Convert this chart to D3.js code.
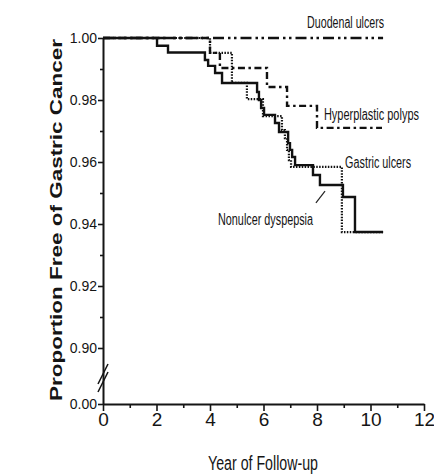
<!DOCTYPE html>
<html>
<head>
<meta charset="utf-8">
<script src="https://cdn.jsdelivr.net/npm/d3@7"></script>
<style>
  body { margin: 0; background: #fff; }
  svg text { fill: #151515; }
</style>
</head>
<body>
<svg class="main-svg" width="434" height="476"></svg>
<script>
// values (years of follow-up, proportion free of cancer)
const xTicks = [0, 2, 4, 6, 8, 10, 12]
const xMinorTicks = [1, 3, 5, 7, 9, 11]
const yTicks = [0.00, 0.90, 0.92, 0.94, 0.96, 0.98, 1.00]
const yMinorTicks = [0.91, 0.93, 0.95, 0.97, 0.99]

const seriesNames = ['Duodenal ulcers', 'Hyperplastic polyps', 'Gastric ulcers', 'Nonulcer dyspepsia']

const duodenalYears = [0, 10.47]
const duodenalFree = [1.0, 1.0]

const polypYears = [0, 4.0, 4.37, 6.13, 6.88, 8.0, 10.43]
const polypFree = [1.0, 0.9952, 0.9903, 0.9842, 0.9781, 0.971, 0.971]

const gastricYears = [0, 4.0, 4.82, 5.38, 5.98, 6.69, 6.80, 6.88, 6.95, 7.03, 8.93, 10.47]
const gastricFree = [1.0, 0.9952, 0.9855, 0.9803, 0.9748, 0.9703, 0.9677, 0.9639, 0.9606, 0.9584, 0.9374, 0.9374]

const dyspepsiaYears = [0, 2.02, 2.43, 3.81, 3.93, 4.19, 4.45, 5.76, 5.83, 5.91, 6.02, 6.43, 6.58, 6.92, 6.99, 7.07, 7.18, 7.85, 8.11, 8.97, 9.42, 10.47]
const dyspepsiaFree = [1.0, 0.9975, 0.9953, 0.9929, 0.991, 0.9887, 0.9855, 0.9826, 0.980, 0.9774, 0.9752, 0.9726, 0.9697, 0.9661, 0.9639, 0.9616, 0.959, 0.9558, 0.9526, 0.9487, 0.9374, 0.9374]

const zip = (xs, ys) => xs.map((t, i) => ({ t: t, v: ys[i] }))
const series = [
  { name: seriesNames[0], values: zip(duodenalYears, duodenalFree), dash: '11,4,2.5,3.5,2.5,4', w: 2.4 },
  { name: seriesNames[1], values: zip(polypYears, polypFree), dash: '7,3.5,2.5,3.5', w: 2.4 },
  { name: seriesNames[2], values: zip(gastricYears, gastricFree), dash: '1.5,1.4', w: 2.2 },
  { name: seriesNames[3], values: zip(dyspepsiaYears, dyspepsiaFree), dash: null, w: 2.4 }
]

const margin = { top: 38, left: 103 }
const width = 321
const height = 366
const yBreak = 0.885

const svg = d3.select('.main-svg')
const g = svg.append('g').attr('transform', `translate(${margin.left},${margin.top})`)

const x = d3.scaleLinear().domain([0, 12]).range([0, width])
// broken axis: 0.00 sits just below the 0.90–1.00 segment
const y = d3.scaleLinear().domain([0, yBreak, 1]).range([height, (1 - yBreak) * 3100, 0])

const tickFont = "'Liberation Sans Narrow', 'Arial Narrow', 'Liberation Sans', sans-serif"

// x axis
g.append('g')
  .attr('class', 'x axis')
  .attr('transform', `translate(0,${height})`)
  .call(d3.axisBottom(x).tickValues(xTicks).tickSize(7).tickSizeOuter(0).tickPadding(2).tickFormat(d3.format('d')))
g.append('g')
  .attr('class', 'x minor')
  .attr('transform', `translate(0,${height})`)
  .call(d3.axisBottom(x).tickValues(xMinorTicks).tickSize(4).tickSizeOuter(0).tickFormat(''))
  .select('.domain').remove()

// y axis
g.append('g')
  .attr('class', 'y axis')
  .call(d3.axisLeft(y).tickValues(yTicks).tickSize(5).tickSizeOuter(0).tickPadding(1).tickFormat(d3.format('.2f')))
g.append('g')
  .attr('class', 'y minor')
  .call(d3.axisLeft(y).tickValues(yMinorTicks).tickSize(3).tickSizeOuter(0).tickFormat(''))
  .select('.domain').remove()

g.selectAll('.domain').attr('stroke', '#151515').attr('stroke-width', 2)
g.selectAll('.tick line').attr('stroke', '#151515').attr('stroke-width', 1.6)
g.selectAll('.y.axis .tick text')
  .style('font-family', tickFont)
  .style('font-size', '14px')
g.selectAll('.x.axis .tick text')
  .style('font-family', tickFont)
  .style('font-size', '19px')

// axis break marks
const breakY = (y(0.90) + y(0)) / 2 + 2
;[-4, 4].forEach((off) => {
  g.append('line')
    .attr('x1', -5).attr('y1', breakY + off + 10)
    .attr('x2', 5).attr('y2', breakY + off - 10)
    .attr('stroke', '#151515')
    .attr('stroke-width', 1.6)
})

// survival curves
const line = d3.line()
  .x((d) => x(d.t))
  .y((d) => y(d.v))
  .curve(d3.curveStepAfter)

g.selectAll('.curve')
  .data(series)
  .enter()
  .append('path')
  .attr('class', 'curve')
  .attr('d', (d) => line(d.values))
  .attr('fill', 'none')
  .attr('stroke', '#111')
  .attr('stroke-width', (d) => d.w)
  .attr('stroke-dasharray', (d) => d.dash)

// curve labels
const labelFont = "'Liberation Sans Narrow', 'Arial Narrow', 'Liberation Sans', sans-serif"
const labels = [
  { text: seriesNames[0], t: 7.63, v: 1.0032, len: 77 },
  { text: seriesNames[1], t: 8.26, v: 0.9735, len: 95 },
  { text: seriesNames[2], t: 9.05, v: 0.9581, len: 66 },
  { text: seriesNames[3], t: 4.30, v: 0.9397, len: 95 }
]
g.selectAll('.curve-label')
  .data(labels)
  .enter()
  .append('text')
  .attr('class', 'curve-label')
  .attr('x', (d) => x(d.t))
  .attr('y', (d) => y(d.v))
  .attr('textLength', (d) => d.len)
  .attr('lengthAdjust', 'spacingAndGlyphs')
  .style('font-family', labelFont)
  .style('font-size', '16px')
  .text((d) => d.text)

// leader line to the nonulcer dyspepsia curve
g.append('line')
  .attr('x1', x(7.96)).attr('y1', y(0.9468))
  .attr('x2', x(8.30)).attr('y2', y(0.9506))
  .attr('stroke', '#222')
  .attr('stroke-width', 1.2)

// axis titles
g.append('text')
  .attr('transform', `translate(-41,${height / 2 - 1}) rotate(-90)`)
  .attr('text-anchor', 'middle')
  .attr('textLength', 362)
  .attr('lengthAdjust', 'spacingAndGlyphs')
  .style('font-family', "'Liberation Sans', Arial, sans-serif")
  .style('font-weight', 'bold')
  .style('font-size', '16px')
  .text('Proportion Free of Gastric Cancer')

g.append('text')
  .attr('x', x(4) - 2)
  .attr('y', height + 66)
  .attr('textLength', 110)
  .attr('lengthAdjust', 'spacingAndGlyphs')
  .style('font-family', labelFont)
  .style('font-size', '20px')
  .text('Year of Follow-up')
</script>
</body>
</html>
